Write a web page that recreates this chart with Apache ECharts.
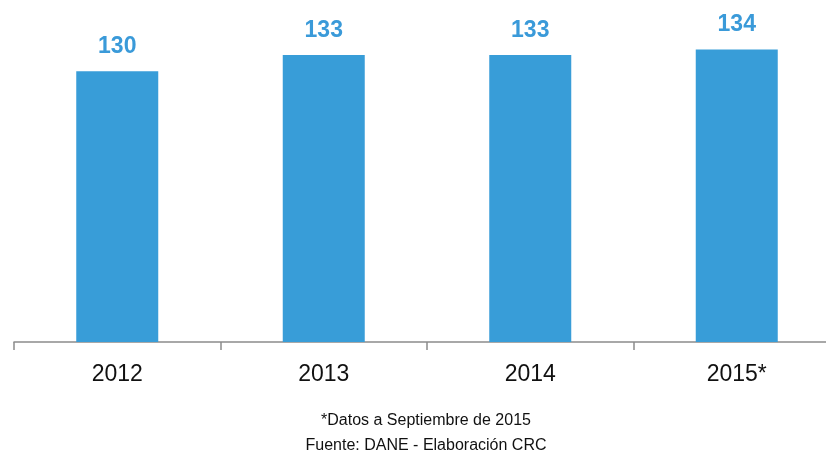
<!DOCTYPE html>
<html>
<head>
<meta charset="utf-8">
<script src="https://cdn.jsdelivr.net/npm/echarts@6/dist/echarts.min.js"></script>
<style>
  html, body { margin: 0; padding: 0; background: #fff; }
  #chart { width: 826px; height: 464px; }
</style>
</head>
<body>
<div id="chart"></div>
<script>
var years = ['2012', '2013', '2014', '2015*'];
var values = [130, 133, 133, 134];
var notes = ['*Datos a Septiembre de 2015', 'Fuente: DANE - Elaboración CRC'];

var chart = echarts.init(document.getElementById('chart'));
chart.setOption({
  animation: false,
  grid: { left: 14, width: 826, top: 17, bottom: 122, outerBoundsMode: 'none', containLabel: false },
  xAxis: {
    type: 'category',
    data: years,
    axisLine: { lineStyle: { color: '#8c8c8c', width: 1.5 } },
    axisTick: { show: true, length: 8, lineStyle: { color: '#8c8c8c', width: 1.5 } },
    axisLabel: {
      color: '#111',
      fontFamily: 'Liberation Sans',
      fontSize: 23,
      margin: 21
    }
  },
  yAxis: {
    type: 'value',
    min: 80,
    max: 140,
    show: false,
    splitLine: { show: false }
  },
  series: [{
    type: 'bar',
    data: values,
    barWidth: 82,
    itemStyle: { color: '#389dd8' },
    label: {
      show: true,
      position: 'top',
      distance: 13,
      color: '#3a9ad9',
      fontFamily: 'Liberation Sans',
      fontWeight: 'bold',
      fontSize: 23
    }
  }],
  graphic: [
    {
      type: 'text', x: 426, y: 421,
      style: { text: notes[0], fill: '#111', font: '16px "Liberation Sans"', textAlign: 'center', textVerticalAlign: 'middle' }
    },
    {
      type: 'text', x: 426, y: 446,
      style: { text: notes[1], fill: '#111', font: '16px "Liberation Sans"', textAlign: 'center', textVerticalAlign: 'middle' }
    }
  ]
});
</script>
</body>
</html>
